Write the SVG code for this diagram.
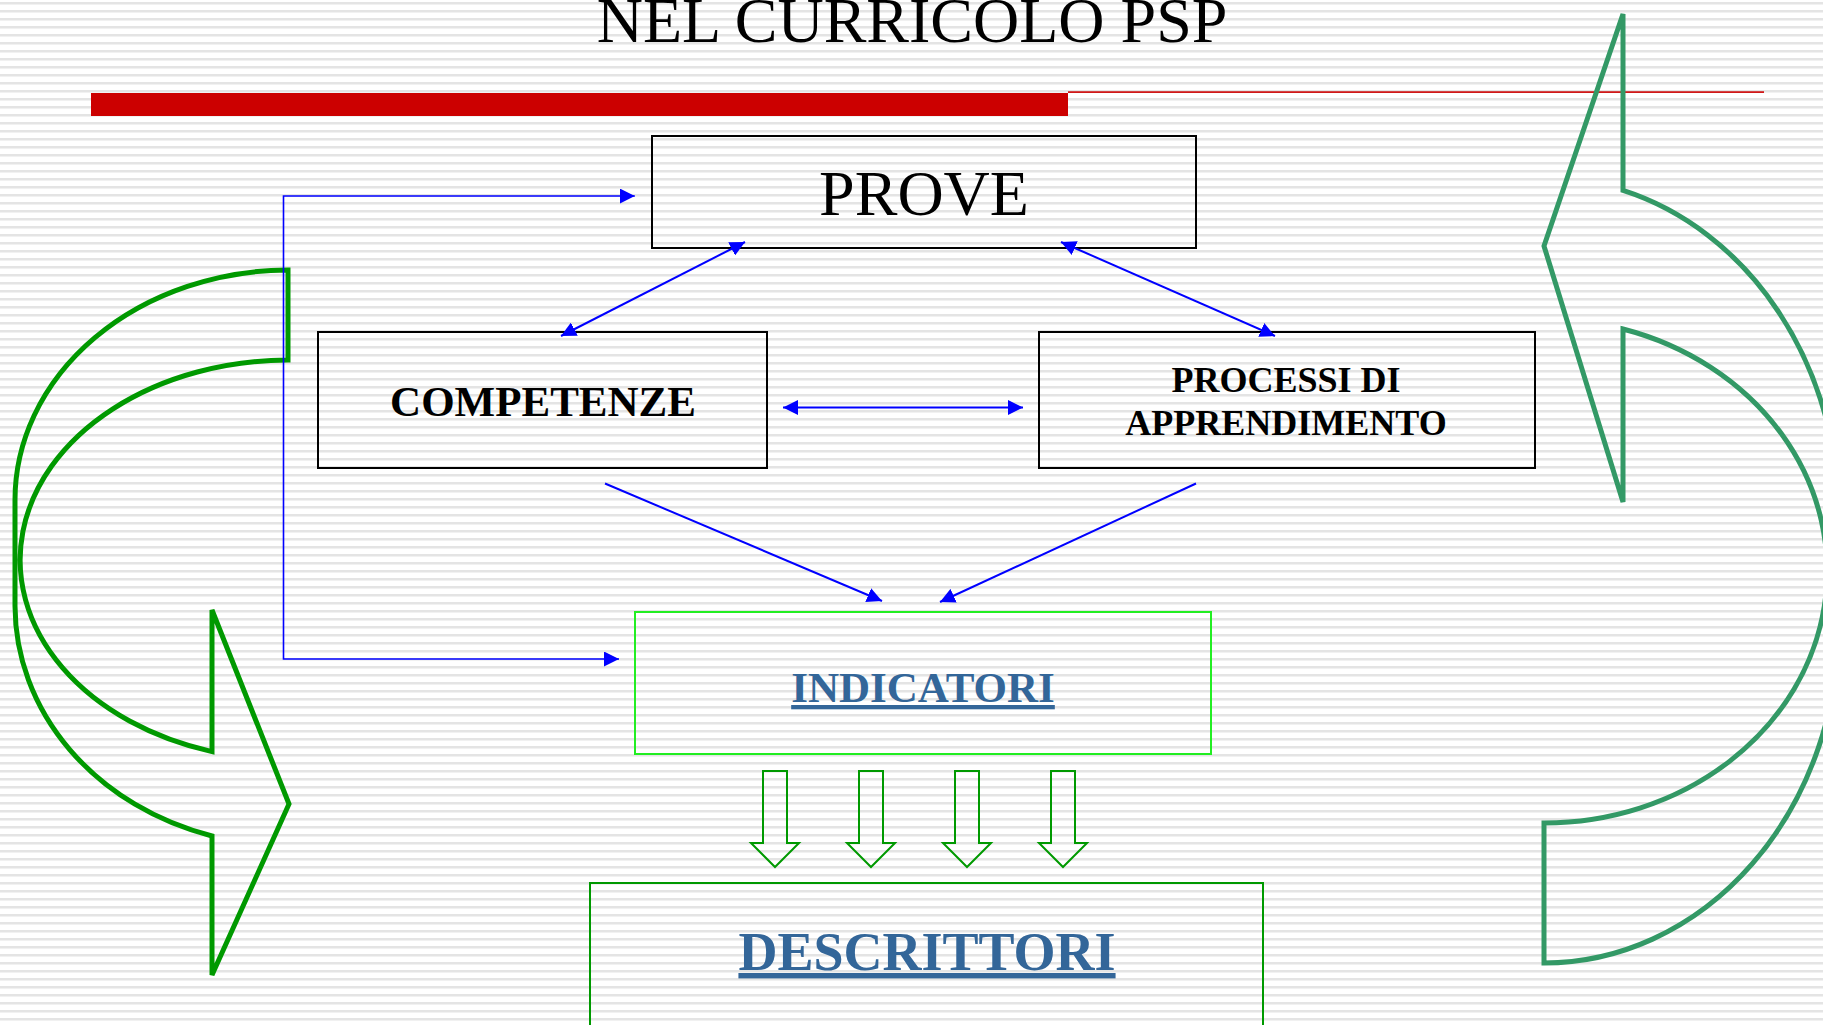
<svg xmlns="http://www.w3.org/2000/svg" width="1823" height="1025" viewBox="0 0 1823 1025">
  <defs>
    <pattern id="stripes" width="8" height="8" patternUnits="userSpaceOnUse">
      <rect width="8" height="8" fill="#ffffff"/>
      <rect y="2" width="8" height="2" fill="#e4e4e4"/>
      <rect y="4" width="8" height="1" fill="#f1f1f1"/>
    </pattern>
    <marker id="ah" viewBox="0 0 15 15" refX="15" refY="7.5" markerWidth="15" markerHeight="15" markerUnits="userSpaceOnUse" orient="auto-start-reverse">
      <path d="M0,0 L15,7.5 L0,15 Z" fill="#0000ff"/>
    </marker>
    <style>
      .box { fill: none; stroke: #000000; stroke-width: 2; }
      .serif { font-family: "Liberation Serif", "Times New Roman", serif; }
      .lbl { font-family: "Liberation Serif", "Times New Roman", serif; font-weight: bold; fill: #000000; text-anchor: middle; }
      .link { fill: #336699; text-decoration: underline; }
      .conn { fill: none; stroke: #0000ff; stroke-width: 2; }
      .elbow { fill: none; stroke: #0000ff; stroke-width: 1.6; }
      .down { fill: none; stroke: #009900; stroke-width: 2; }
    </style>
  </defs>

  <rect width="1823" height="1025" fill="url(#stripes)"/>

  <g id="title">
    <text x="912" y="42" class="serif" font-size="64" text-anchor="middle" fill="#000000">NEL CURRICOLO PSP</text>
  </g>

  <g id="title-bar">
    <rect x="91" y="93" width="977" height="23" fill="#cc0000"/>
    <rect x="1068" y="91.3" width="696" height="1.6" fill="#cc0000"/>
  </g>

  <g id="left-curved-arrow">
    <path d="M288,270 A274,230 0 0 0 15,500 L15,606 A273,240 0 0 0 212,836 L212,975 L289,804 L212,610 L212,751.6 A269,200 0 0 1 288,360 Z" fill="none" stroke="#009900" stroke-width="5" stroke-linejoin="miter"/>
  </g>

  <g id="right-curved-arrow">
    <path d="M1623,190.4 A295,340 0 0 1 1839,518 L1839,623 A295,340 0 0 1 1544,963 L1544,823 A283,252 0 0 0 1623,329 L1623,502 L1544,246 L1623,14 Z" fill="none" stroke="#339966" stroke-width="5"/>
  </g>

  <g id="prove">
    <rect x="652" y="136" width="544" height="112" class="box"/>
    <text x="924" y="215" class="serif" font-size="64" text-anchor="middle" fill="#000000">PROVE</text>
  </g>

  <g id="competenze">
    <rect x="318" y="332" width="449" height="136" class="box"/>
    <text x="543" y="416" class="lbl" font-size="43">COMPETENZE</text>
  </g>

  <g id="processi">
    <rect x="1039" y="332" width="496" height="136" class="box"/>
    <text x="1286" y="392" class="lbl" font-size="36">PROCESSI DI</text>
    <text x="1286" y="435" class="lbl" font-size="36">APPRENDIMENTO</text>
  </g>

  <g id="indicatori">
    <rect x="635" y="612" width="576" height="142" fill="none" stroke="#22ee22" stroke-width="2"/>
    <text x="923" y="702" class="lbl link" font-size="43">INDICATORI</text>
  </g>

  <g id="descrittori">
    <rect x="590" y="883" width="673" height="160" fill="none" stroke="#009900" stroke-width="2"/>
    <text x="927" y="970" class="lbl link" font-size="54">DESCRITTORI</text>
  </g>

  <g id="connectors">
    <path class="elbow" d="M634.8,196 H283.5 V659 H619" marker-start="url(#ah)" marker-end="url(#ah)"/>
    <line class="conn" x1="561" y1="336" x2="745" y2="242" marker-start="url(#ah)" marker-end="url(#ah)"/>
    <line class="conn" x1="1061" y1="242" x2="1275" y2="336" marker-start="url(#ah)" marker-end="url(#ah)"/>
    <line class="conn" x1="783" y1="407.5" x2="1023" y2="407.5" marker-start="url(#ah)" marker-end="url(#ah)"/>
    <line class="conn" x1="605" y1="483.5" x2="882" y2="601" marker-end="url(#ah)"/>
    <line class="conn" x1="1196" y1="483.5" x2="940" y2="602" marker-end="url(#ah)"/>
    <path class="down" d="M763,771 H787 V843 H799 L775,867 L751,843 H763 Z"/>
    <path class="down" d="M859,771 H883 V843 H895 L871,867 L847,843 H859 Z"/>
    <path class="down" d="M955,771 H979 V843 H991 L967,867 L943,843 H955 Z"/>
    <path class="down" d="M1051,771 H1075 V843 H1087 L1063,867 L1039,843 H1051 Z"/>
  </g>
</svg>
